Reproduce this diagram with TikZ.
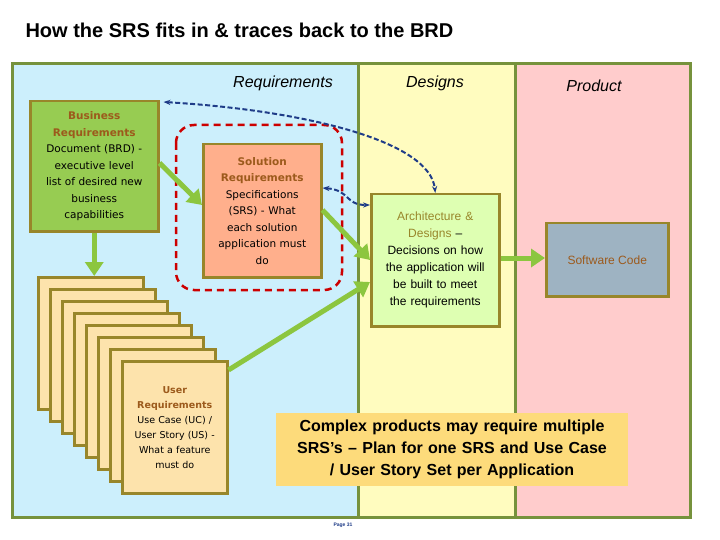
\documentclass[tikz,border=0pt]{standalone}
\usepackage{fontspec}
\setmainfont{Liberation Sans}
\newfontfamily\tahoma{DejaVu Sans}
\usetikzlibrary{positioning,arrows.meta}
\definecolor{frameG}{HTML}{76923C}
\definecolor{boxB}{HTML}{98862A}
\definecolor{arrG}{HTML}{8CC63F}
\definecolor{dashB}{HTML}{1F3C88}
\definecolor{brownT}{HTML}{9C5A1C}
\definecolor{codeB}{HTML}{9EB3C2}
\tikzset{box/.style={draw=boxB,line width=2.5pt,align=center,inner sep=2pt}}
\tikzset{card/.style={box,fill=yellow!35!orange!30,minimum width=105pt,minimum height=132pt}}
\tikzset{flow/.style={draw=arrG,line width=5pt,-{Triangle[length=14pt,width=18pt]}}}
\tikzset{trace/.style={draw=dashB,line width=2pt,dash pattern=on 5pt off 2.5pt,{Stealth[length=7pt]}-{Stealth[length=7pt]}}}
\tikzset{head/.style={font=\itshape\fontsize{16}{18}\selectfont}}
\begin{document}
\lefthyphenmin=64 \hyphenpenalty=10000
\begin{tikzpicture}[x=1pt,y=-1pt]
\useasboundingbox (0,0) rectangle (720,540);
\fill[white] (0,0) rectangle (720,540);
\node[anchor=west,font=\bfseries\fontsize{20}{24}\selectfont] (title) at (22,30) {How the SRS fits in \& traces back to the BRD};

% lanes
\fill[cyan!20] (12,64) rectangle (358,517);
\fill[yellow!25] (358,64) rectangle (515,517);
\fill[red!20] (515,64) rectangle (690,517);
\draw[frameG,line width=3pt] (12,64) rectangle (690,517) (358,64) -- (358,517) (515,64) -- (515,517);
\node[head] (lreq) at (283,83) {Requirements};
\node[head] (ldes) at (435,83) {Designs};
\node[head] (lprod) at (594,86) {Product};

\node[box,fill=arrG!90,text width=124pt,minimum height=130pt,anchor=north west,font=\tahoma\fontsize{10.5}{16.5}\selectfont] (brd) at (29,100)
  {{\color{brownT}\bfseries Business\\Requirements}\\Document (BRD) -\\executive level\\list of desired new\\business\\capabilities\par\vspace{6pt}};

\draw[red!80!black,line width=2.5pt,dash pattern=on 7pt off 5pt,rounded corners=18pt] (176,125) rectangle (342,290);
\node[box,fill=red!40!orange!45,text width=114pt,minimum height=133pt,anchor=north west,font=\tahoma\fontsize{10.5}{16.5}\selectfont] (srs) at (202,143)
  {{\color{brownT}\bfseries Solution\\Requirements}\\Specifications\\(SRS) - What\\each solution\\application must\\do};

\node[box,fill=green!25!lime!30,text width=124pt,minimum height=132pt,anchor=north west,font=\fontsize{12}{17}\selectfont] (arch) at (370,193)
  {{\color{boxB}Architecture \&\\Designs} --\\Decisions on how\\the application will\\be built to meet\\the requirements};

\node[box,fill=codeB,minimum width=122pt,minimum height=73pt,anchor=north west,font=\fontsize{12}{15}\selectfont,text=brownT] (code) at (545,222) {Software Code};

% stacked user requirement cards
\foreach \i in {0,...,6}
  \node[card,anchor=north west] (card\i) at (37+12*\i,276+12*\i) {};
\node[card,anchor=north west,text width=100pt,font=\tahoma\fontsize{9.5}{15}\selectfont] (user) at (121,360)
  {{\color{brownT}\bfseries User\\Requirements}\\Use Case (UC) /\\User Story (US) -\\What a feature\\must do};

\node[fill=yellow!50!orange!50,minimum width=350pt,minimum height=73pt,text width=345pt,align=center,font=\bfseries\fontsize{16}{22}\selectfont,anchor=north west] (note) at (276,413)
  {Complex products may require multiple\\SRS's -- Plan for one SRS and Use Case\\/ User Story Set per Application};

\node[font=\bfseries\tiny,text=dashB] (page) at (343,525) {Page 31};

% flows
\draw[flow] (brd.south) -- (card0.north -| brd.south);
\draw[flow] (brd.east |- 0,163) -- (srs.west |- 0,205);
\draw[flow] (srs.east |- 0,210) -- (arch.west |- 0,260);
\draw[flow] (user.north east) ++(0,10) -- (arch.west |- 0,282);
\draw[flow] (arch.east |- 0,258) -- (code.west |- 0,258);

% traces
\draw[trace] (brd.north east) ++(4,2) .. controls (300,110) and (430,140) .. (arch.north);
\draw[trace] (srs.east |- 0,188) .. controls (350,190) and (345,205) .. (arch.west |- 0,205);
\end{tikzpicture}
\end{document}
